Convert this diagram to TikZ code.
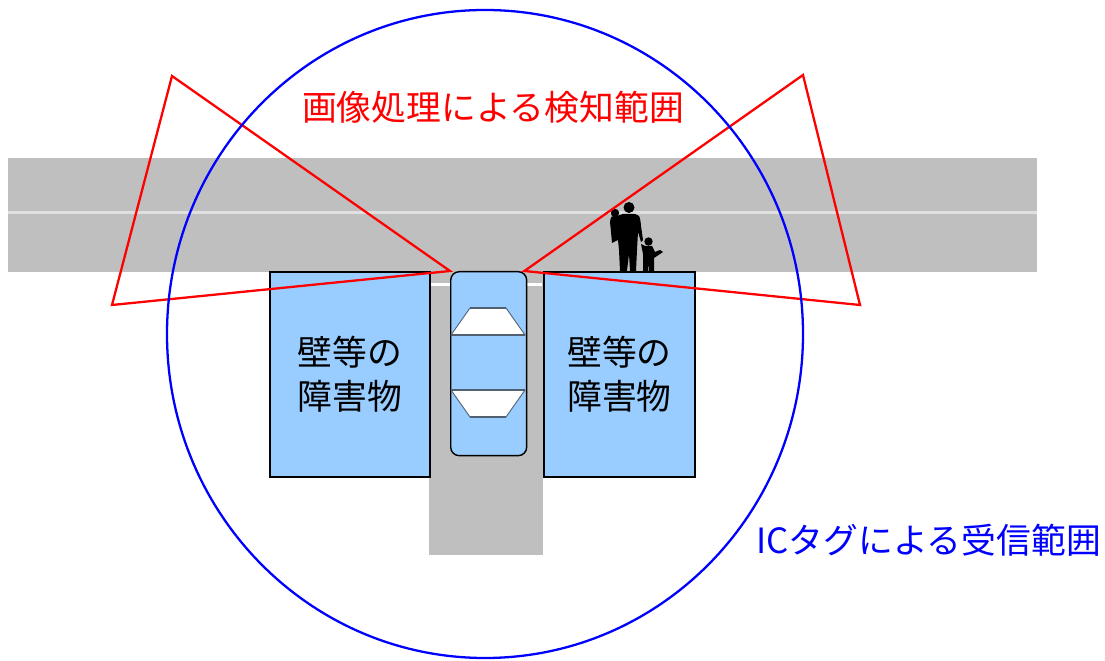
\documentclass[tikz,border=0pt]{standalone}
\usepackage{fontspec}
\usepackage{tikz}
\usetikzlibrary{positioning, calc}
\newfontfamily\jp{Noto Sans CJK JP}
\definecolor{roadgray}{RGB}{191,191,191}
\definecolor{wallblue}{RGB}{153,204,255}
\definecolor{glassedge}{RGB}{80,96,112}

\begin{document}
\begin{tikzpicture}[
    x=0.02cm, y=-0.02cm,
    font=\jp\fontsize{19.8}{24}\selectfont,
    wall/.style={draw, fill=wallblue, line width=1.1pt, align=center, anchor=north west, minimum height=4.1cm, inner sep=0pt},
    carbody/.style={draw, fill=wallblue, line width=0.8pt, rounded corners=0.17cm, anchor=north west, minimum width=1.52cm, minimum height=3.68cm, inner sep=0pt},
    glass/.style={fill=white, draw=glassedge, line width=0.5pt},
    fov/.style={draw=red, line width=1.3pt, line join=miter},
    tagrange/.style={draw=blue, line width=1.3pt}
  ]
    \useasboundingbox (0,0) rectangle (1105,661);

    % roads
    \fill[roadgray] (8,158) rectangle (1037,272);
    \fill[roadgray] (429,272) rectangle (543,555);
    \draw[white!88!black, line width=1.2pt] (8,212.5) -- (1037,212.5);
    \draw[white, line width=2.2pt] (430,284.5) -- (542,284.5);

    % obstacles on both sides
    \node[wall, minimum width=3.2cm] (leftwall) at (269,271) {壁等の\\[1pt]障害物};
    \node[wall, minimum width=3.02cm] (rightwall) at (543,271) {壁等の\\[1pt]障害物};

    % car seen from above
    \node[carbody] (car) at (450,271) {};
    \path[glass] (470,308) -- (506,308) -- (525,335) -- (451,335) -- cycle;
    \path[glass] (451,390) -- (525,390) -- (506,417) -- (470,417) -- cycle;
    \draw[glassedge, line width=1.6pt] (451,335) -- (525,335) (451,390) -- (525,390)
      (470,308) -- (506,308) (470,417) -- (506,417);

    % pedestrians
    \fill[black]
      (629,207.5) circle (5.5)
      (615,213) circle (4.2)
      (648.5,241.5) circle (4.2);
    \fill[black]
      (623,214) -- (635,214) .. controls (640,216) .. (641,226)
      -- (643,240) -- (641,242) -- (638,232) -- (637,250) -- (636,271)
      -- (630,271) -- (629,254) -- (627,271) -- (620,271) -- (619,250)
      -- (618,240) -- (612,243) -- (611,232) -- (610,222)
      .. controls (611,216) .. (617,216) -- cycle;
    \fill[black]
      (645,246) -- (652,246) -- (655,252) -- (660,250) -- (663,252)
      -- (657,256) -- (654,258) -- (654,271) -- (649,271) -- (648.5,262)
      -- (648,271) -- (643,271) -- (643,254) -- (641,244) -- cycle;

    % camera detection areas
    \coordinate (lfartop) at (172,76);
    \coordinate (lfarbot) at (112,305);
    \coordinate (rfartop) at (803,75);
    \coordinate (rfarbot) at (860,305);
    \draw[fov] (car.north west) -- (lfartop) -- (lfarbot) -- cycle;
    \draw[fov] ([xshift=-0.06cm]car.north east) -- (rfartop) -- (rfarbot) -- cycle;

    % IC tag reception area
    \draw[tagrange] (485,334) ellipse [x radius=318, y radius=324];

    % labels
    \node[text=red] (camlabel) at (493,107) {画像処理による検知範囲};
    \node[text=blue, anchor=west, inner sep=0pt] (taglabel) at (756,540) {ICタグによる受信範囲};
  \end{tikzpicture}
\end{document}
